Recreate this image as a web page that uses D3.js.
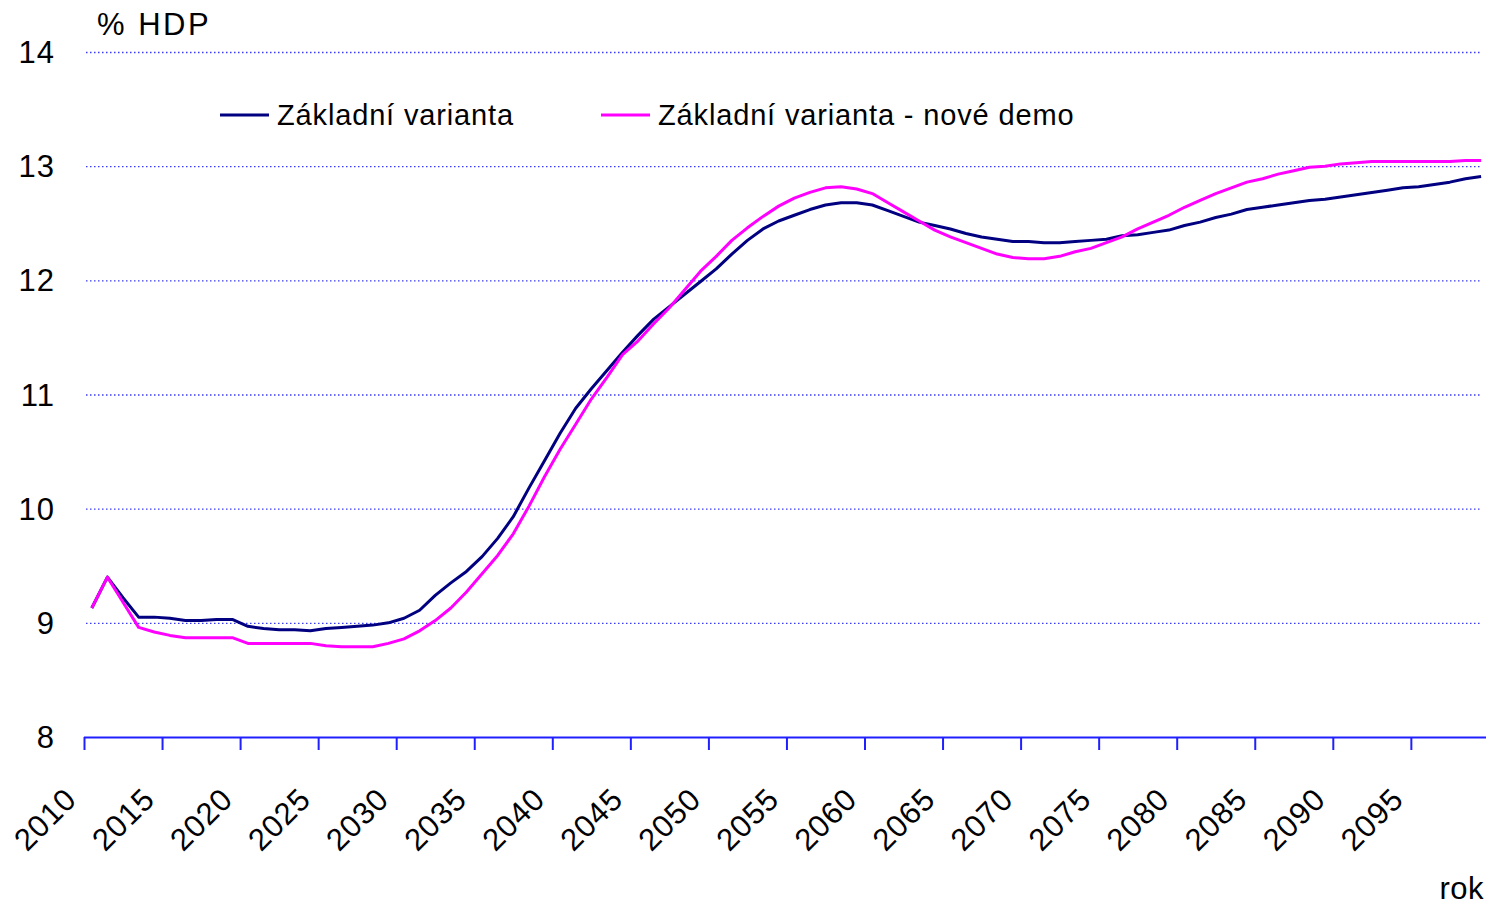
<!DOCTYPE html>
<html>
<head>
<meta charset="utf-8">
<script src="https://cdn.jsdelivr.net/npm/d3@7"></script>
<style>
body{margin:0;background:#fff;}
svg text{font-family:Arial,'Liberation Sans',sans-serif;fill:#000;}
</style>
</head>
<body>
<div class="main"></div>
<script>
var years=d3.range(2010,2100);
var seriesNames=['Základní varianta','Základní varianta - nové demo'];
var seriesColors=['#000080','#ff00ff'];

// Základní varianta
var baseValues=[9.13,9.40,9.22,9.05,9.05,9.04,9.02,9.02,9.03,9.03,
  8.97,8.95,8.94,8.94,8.93,8.95,8.96,8.97,8.98,9.00,
  9.04,9.11,9.24,9.35,9.45,9.58,9.74,9.93,10.18,10.42,
  10.66,10.88,11.05,11.21,11.37,11.52,11.66,11.77,11.88,11.99,
  12.10,12.23,12.35,12.45,12.52,12.57,12.62,12.66,12.68,12.68,
  12.66,12.61,12.56,12.51,12.48,12.45,12.41,12.38,12.36,12.34,
  12.34,12.33,12.33,12.34,12.35,12.36,12.39,12.40,12.42,12.44,
  12.48,12.51,12.55,12.58,12.62,12.64,12.66,12.68,12.70,12.71,
  12.73,12.75,12.77,12.79,12.81,12.82,12.84,12.86,12.89,12.91];
// Základní varianta - nové demo
var demoValues=[9.13,9.40,9.18,8.96,8.92,8.89,8.87,8.87,8.87,8.87,
  8.82,8.82,8.82,8.82,8.82,8.80,8.79,8.79,8.79,8.82,
  8.86,8.93,9.02,9.13,9.27,9.43,9.59,9.78,10.02,10.28,
  10.52,10.74,10.96,11.15,11.35,11.47,11.62,11.76,11.92,12.08,
  12.21,12.35,12.46,12.56,12.65,12.72,12.77,12.81,12.82,12.80,
  12.76,12.68,12.60,12.52,12.44,12.38,12.33,12.28,12.23,12.20,
  12.19,12.19,12.21,12.25,12.28,12.33,12.38,12.45,12.51,12.57,
  12.64,12.70,12.76,12.81,12.86,12.89,12.93,12.96,12.99,13.00,
  13.02,13.03,13.04,13.04,13.04,13.04,13.04,13.04,13.05,13.05];

var yTicks=[8,9,10,11,12,13,14];
var xTickLabels=d3.range(2010,2100,5);

var width=1486,height=907;
var svg=d3.select('.main').append('svg')
    .attr('width',width)
    .attr('height',height);

var x=d3.scaleLinear().domain([2009.5,2099.5]).range([84,84+90*15.61]);
var y=d3.scaleLinear().domain([8,14]).range([737,52]);

// gridlines
svg.append('g').selectAll('line')
    .data(yTicks.filter(function(d){return d>8;}))
    .enter().append('line')
    .attr('x1',86).attr('x2',1482)
    .attr('y1',function(d){return y(d)+0.5;})
    .attr('y2',function(d){return y(d)+0.5;})
    .attr('stroke','#3a3aff')
    .attr('stroke-width',1.3)
    .attr('stroke-dasharray','1.5,2.5');

// y labels
svg.append('g').selectAll('text')
    .data(yTicks)
    .enter().append('text')
    .attr('x',55)
    .attr('y',function(d){return y(d)+11;})
    .attr('text-anchor','end')
    .style('font-size','31px')
    .style('letter-spacing','1px')
    .text(function(d){return d;});

// x axis
var xAxis=d3.axisBottom(x)
    .tickValues(xTickLabels.map(function(d){return d-0.5;}))
    .tickSize(13)
    .tickFormat(function(d){return d+0.5;});
var xg=svg.append('g')
    .attr('transform','translate(0,737)')
    .call(xAxis);
xg.select('.domain').attr('d','M84,0.5H1486').attr('stroke','#2020ff').attr('stroke-width',2);
xg.selectAll('.tick line').attr('stroke','#2020ff').attr('stroke-width',2);
xg.selectAll('.tick text')
    .attr('x',0).attr('y',0).attr('dy',0)
    .attr('transform','translate(-6,64) rotate(-45)')
    .attr('text-anchor','end')
    .style('font-size','31px')
    .style('letter-spacing','1px')
    .style('font-family','Arial,"Liberation Sans",sans-serif')
    .attr('fill','#000');

// lines
var line=d3.line()
    .x(function(d,i){return x(years[i]);})
    .y(function(d){return y(d);});

[baseValues,demoValues].forEach(function(vals,k){
  svg.append('path')
    .datum(vals)
    .attr('d',line)
    .attr('fill','none')
    .attr('stroke',seriesColors[k])
    .attr('stroke-width',3)
    .attr('stroke-linejoin','round');
});

// legend
var legendX=[220,601];
var legend=svg.append('g').selectAll('g')
    .data(seriesNames)
    .enter().append('g')
    .attr('transform',function(d,i){return 'translate('+legendX[i]+',115)';});
legend.append('line')
    .attr('x1',0).attr('x2',49)
    .attr('stroke',function(d,i){return seriesColors[i];})
    .attr('stroke-width',3);
legend.append('text')
    .attr('x',57).attr('y',10)
    .style('font-size','29px')
    .style('letter-spacing','0.85px')
    .text(function(d){return d;});

// axis titles
svg.append('text').attr('x',97).attr('y',35).style('font-size','31px').style('letter-spacing','2.5px').text('% HDP');
svg.append('text').attr('x',1484).attr('y',899).attr('text-anchor','end').style('font-size','31px').style('letter-spacing','0.5px').text('rok');
</script>
</body>
</html>
